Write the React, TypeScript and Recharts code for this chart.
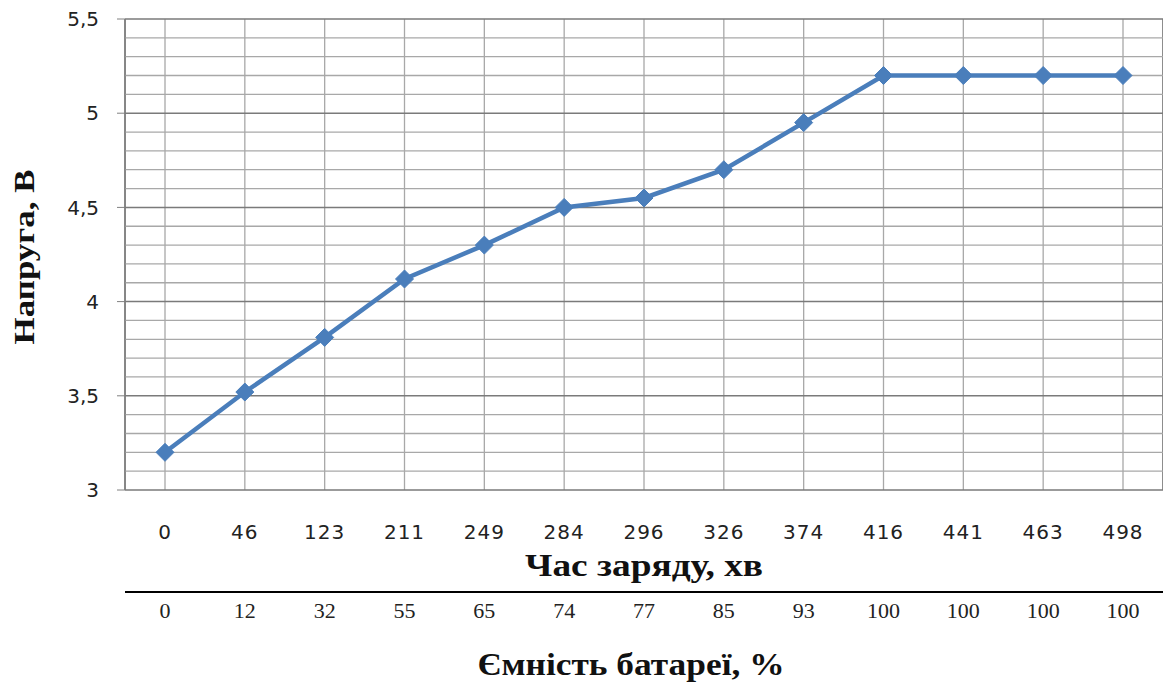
import React from 'react';
import { LineChart, Line, XAxis, YAxis, CartesianGrid, ReferenceLine, Label } from 'recharts';

// Час заряду, хв
const chargeTime = ['0', '46', '123', '211', '249', '284', '296', '326', '374', '416', '441', '463', '498'];
// Ємність батареї, %
const capacity = ['0', '12', '32', '55', '65', '74', '77', '85', '93', '100', '100', '100', '100'];
// Напруга, В
const voltage = [3.2, 3.52, 3.81, 4.12, 4.3, 4.5, 4.55, 4.7, 4.95, 5.2, 5.2, 5.2, 5.2];

const yTicks = [3, 3.5, 4, 4.5, 5, 5.5];
const yMinor = [3.1, 3.2, 3.3, 3.4, 3.6, 3.7, 3.8, 3.9, 4.1, 4.2, 4.3, 4.4, 4.6, 4.7, 4.8, 4.9, 5.1, 5.2, 5.3, 5.4];
const boundaries = [0, 1, 2, 3, 4, 5, 6, 7, 8, 9, 10, 11, 12, 13];

const data = chargeTime.map((t, i) => ({ idx: i, time: t, cap: capacity[i], v: voltage[i] }));

const BLUE = '#4a7ebb';
const PAD = 40;

const Diamond = (props: any) => {
  const { cx, cy } = props;
  if (cx == null || cy == null) return null;
  const r = 9;
  return (
    <polygon
      points={`${cx},${cy - r} ${cx + r},${cy} ${cx},${cy + r} ${cx - r},${cy}`}
      fill={BLUE}
      stroke={BLUE}
    />
  );
};

const titleStyle = {
  fontFamily: 'Liberation Serif',
  fontWeight: 'bold' as const,
  fill: '#111',
};

export default function App() {
  return (
    <div style={{ position: 'absolute', left: 0, top: 0, width: 1163, height: 683, background: '#fff' }}>
      <LineChart width={1163} height={683} data={data} margin={{ top: 19, right: 0, left: 0, bottom: 0 }}>
        <YAxis
          yAxisId="main"
          type="number"
          domain={[3, 5.5]}
          ticks={yTicks}
          width={125}
          interval={0}
          tickSize={8}
          tickMargin={18}
          stroke="#808080"
          tick={{ fill: '#222', fontSize: 20, fontFamily: 'DejaVu Sans' }}
          tickFormatter={(v: number) => String(v).replace('.', ',')}
        >
          <Label
            content={() => (
              <text
                x={34}
                y={257}
                transform="rotate(-90 34 257)"
                textAnchor="middle"
                fontSize={30}
                textLength={175}
                lengthAdjust="spacingAndGlyphs"
                {...titleStyle}
              >
                Напруга, В
              </text>
            )}
          />
        </YAxis>
        <XAxis
          xAxisId="a0"
          type="number"
          dataKey="idx"
          domain={[0, 13]}
          ticks={boundaries}
          interval={0}
          height={0}
          tickSize={7}
          stroke="#808080"
          tick={false}
        />
        <XAxis
          xAxisId="a1"
          dataKey="time"
          height={102}
          interval={0}
          padding={{ left: PAD, right: PAD }}
          axisLine={false}
          tickLine={false}
          tickMargin={29}
          tick={{ fill: '#222', fontSize: 20, fontFamily: 'DejaVu Sans', letterSpacing: 1 }}
        >
          <Label
            content={() => (
              <text x={644} y={576} textAnchor="middle" fontSize={31} textLength={238} lengthAdjust="spacingAndGlyphs" {...titleStyle}>
                Час заряду, хв
              </text>
            )}
          />
        </XAxis>
        <XAxis
          xAxisId="a2"
          dataKey="cap"
          height={91}
          interval={0}
          padding={{ left: PAD, right: PAD }}
          tickLine={false}
          stroke="#000"
          strokeWidth={2}
          tickMargin={4}
          tick={{ fill: '#222', fontSize: 22, fontFamily: 'Liberation Serif' }}
        >
          <Label
            content={() => (
              <text x={631} y={675} textAnchor="middle" fontSize={31} textLength={307} lengthAdjust="spacingAndGlyphs" {...titleStyle}>
                Ємність батареї, %
              </text>
            )}
          />
        </XAxis>

        {yMinor.map((v) => (
          <ReferenceLine key={'h' + v} yAxisId="main" xAxisId="a1" y={v} stroke="#a8a8a8" strokeWidth={1.3} />
        ))}
        <CartesianGrid xAxisId="a1" yAxisId="main" horizontal={false} stroke="#a8a8a8" strokeWidth={1.3} />
        <CartesianGrid xAxisId="a0" yAxisId="main" vertical horizontal stroke="#7a7a7a" strokeWidth={1.5} />

        <Line
          xAxisId="a1"
          yAxisId="main"
          type="linear"
          dataKey="v"
          stroke={BLUE}
          strokeWidth={4.5}
          dot={<Diamond />}
          activeDot={false}
          isAnimationActive={false}
        />
      </LineChart>
    </div>
  );
}
